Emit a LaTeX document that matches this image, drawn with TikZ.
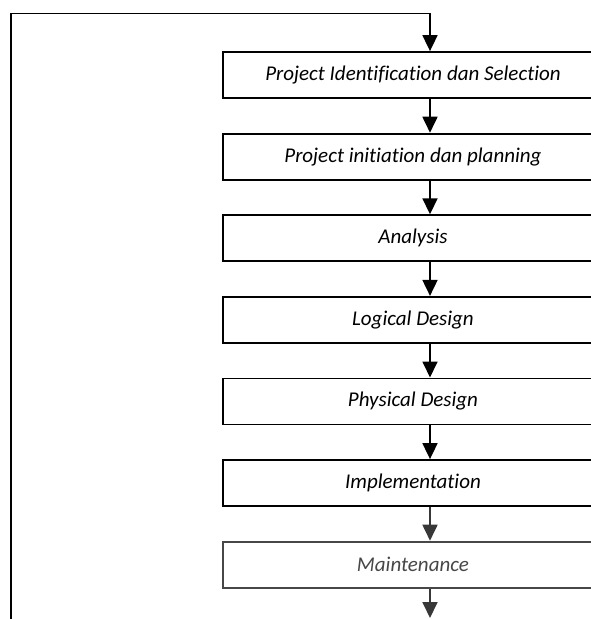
\documentclass[tikz,border=0pt]{standalone}
\usepackage{fontspec}
\setmainfont{Carlito}[Ligatures=NoCommon]
\usetikzlibrary{arrows.meta}
\begin{document}
\begin{tikzpicture}[x=1pt,y=-1pt,
  stage/.style={draw, line width=1.8pt, minimum width=380pt, minimum height=46pt,
    inner sep=0pt, font=\fontsize{21}{24}\selectfont\itshape},
  flow/.style={line width=1.8pt, -{Triangle[width=15pt,length=16pt]}},
  faded/.style={draw=black!72, text=black!72}]
  \useasboundingbox (0,0) rectangle (591,619);
  \begin{scope}
  \clip (0,0) rectangle (591,619);
  \node[stage] (s1) at (413,75) {Project Identification dan Selection};
  \node[stage] (s2) at (413,156.6) {Project initiation dan planning};
  \node[stage] (s3) at (413,238.2) {Analysis};
  \node[stage] (s4) at (413,319.8) {Logical Design};
  \node[stage] (s5) at (413,401.4) {Physical Design};
  \node[stage] (s6) at (413,483) {Implementation};
  \node[stage, faded] (s7) at (413,564.6) {Maintenance};

  % arrows run down a common axis, right of the text centre
  \coordinate (ax) at (430,0);
  \foreach \a/\b in {s1/s2, s2/s3, s3/s4, s4/s5, s5/s6}
    \draw[flow] (\a.south -| ax) -- (\b.north -| ax);
  \draw[flow, black!78] (s6.south -| ax) -- (s7.north -| ax);

  % exit arrow below the last stage
  \coordinate (out) at (430,618);
  \draw[flow, black!78] (s7.south -| ax) -- (out);

  % feedback loop back to the first stage
  \coordinate (loopfoot) at (11,625);
  \coordinate (looptop) at (11,13.5);
  \draw[flow] (loopfoot) -- (looptop) -| (s1.north -| ax);
  \end{scope}
\end{tikzpicture}
\end{document}
